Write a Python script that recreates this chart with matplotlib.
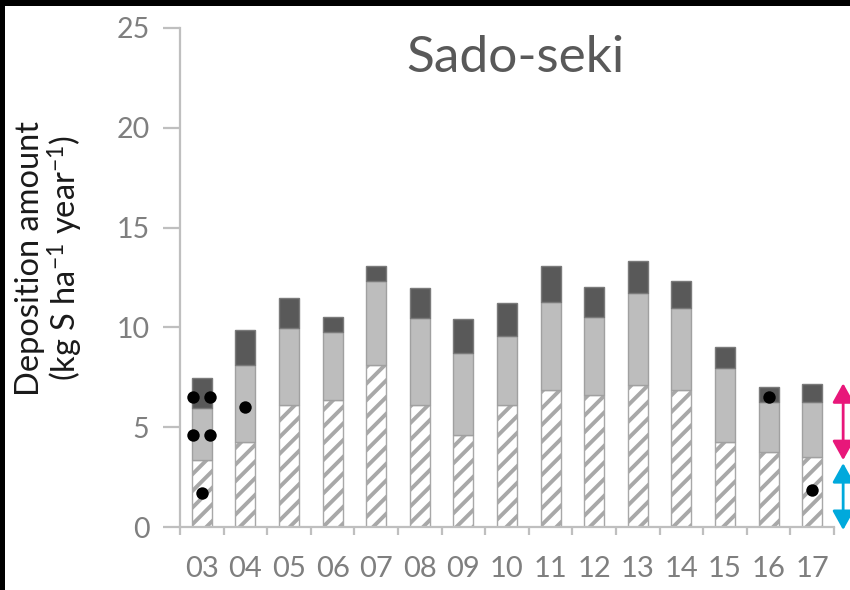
import matplotlib
matplotlib.use("Agg")
import matplotlib.pyplot as plt
from matplotlib.patches import Rectangle
import numpy as np

plt.rcParams['font.family'] = ['Lato', 'DejaVu Sans']
plt.rcParams['mathtext.fontset'] = 'custom'
plt.rcParams['mathtext.rm'] = 'Lato'
plt.rcParams['mathtext.it'] = 'Lato:italic'
plt.rcParams['hatch.linewidth'] = 2.8

# ---- data ----
years = ['03', '04', '05', '06', '07', '08', '09', '10', '11', '12', '13', '14', '15', '16', '17']
# cumulative tops of each layer
hatched_top = [3.35, 4.25, 6.1, 6.35, 8.1, 6.1, 4.6, 6.1, 6.85, 6.6, 7.1, 6.85, 4.25, 3.75, 3.5]
light_top = [5.95, 8.1, 9.95, 9.75, 12.3, 10.45, 8.7, 9.55, 11.25, 10.5, 11.7, 10.95, 7.95, 6.25, 6.25]
dark_top = [7.45, 9.85, 11.45, 10.5, 13.1, 11.95, 10.4, 11.2, 13.1, 12.0, 13.35, 12.3, 9.0, 7.0, 7.15]

marker_years = ['03', '03', '03', '03', '03', '04', '16', '17']
marker_values = [6.5, 6.5, 4.6, 4.6, 1.7, 6.0, 6.5, 1.85]
marker_side = [-1, 1, -1, 1, 0, 0, 0, 0]   # -1 left edge, 1 right edge, 0 centre

arrow_ranges = [(3.35, 7.2), (-0.15, 3.2)]
arrow_colors = ['#e8177a', '#00a9dc']

title = 'Sado-seki'
ylabel = 'Deposition amount\n(kg S ha$^{-1}$ year$^{-1}$)'
yticks = [0, 5, 10, 15, 20, 25]

# ---- figure ----
fig = plt.figure(figsize=(8.5, 5.9), dpi=100)
fig.patch.set_facecolor('black')
fig.add_artist(Rectangle((5 / 850, 0), 1, 1 - 6 / 590, transform=fig.transFigure,
                         facecolor='white', edgecolor='none', zorder=-10))
ax = fig.add_axes([180 / 850, 1 - 527 / 590, 654 / 850, 499 / 590])
ax.set_facecolor('white')

x = np.arange(len(years))
w = 0.46
h = np.array(hatched_top)
l = np.array(light_top)
d = np.array(dark_top)

ax.bar(x, h, width=w, color='white', edgecolor='#a8a8a8', hatch='//', linewidth=1.0, zorder=2)
ax.bar(x, l - h, bottom=h, width=w, color='#bdbdbd', edgecolor='#a0a0a0', linewidth=1.0, zorder=2)
ax.bar(x, d - l, bottom=l, width=w, color='#595959', edgecolor='#7a7a7a', linewidth=1.0, zorder=2)

mx = np.array([years.index(yv) for yv in marker_years]) + np.array(marker_side) * w * 0.42
ax.scatter(mx, marker_values, s=80, color='black', zorder=4, linewidths=0)

for (lo, hi), c in zip(arrow_ranges, arrow_colors):
    ax.annotate('', xy=(1.014, lo), xytext=(1.014, hi),
                xycoords=('axes fraction', 'data'), textcoords=('axes fraction', 'data'),
                arrowprops=dict(arrowstyle='<|-|>,head_length=0.45,head_width=0.25', color=c,
                                lw=2, mutation_scale=26, shrinkA=0, shrinkB=0),
                annotation_clip=False)

ax.set_xlim(-0.5, len(years) - 0.5)
ax.set_ylim(0, 25)

for s in ['top', 'right']:
    ax.spines[s].set_visible(False)
for s in ['left', 'bottom']:
    ax.spines[s].set_color('#bfbfbf')
    ax.spines[s].set_linewidth(1.6)

ax.set_yticks(yticks)
ax.tick_params(axis='y', direction='out', length=12, width=1.6, color='#bfbfbf',
               labelsize=20.5, labelcolor='#7f7f7f', pad=10)
ax.set_xticks(x)
ax.set_xticklabels(years)
ax.set_xticks(np.arange(len(years) + 1) - 0.5, minor=True)
ax.tick_params(axis='x', which='major', length=0, labelsize=21, labelcolor='#7f7f7f', pad=21)
ax.tick_params(axis='x', which='minor', direction='out', length=6, width=1.6, color='#bfbfbf')

ax.text(0.513, 0.94, title, transform=ax.transAxes, ha='center', va='center',
        fontsize=37, color='#595959')

fig.text(50 / 850, 1 - 258 / 590, ylabel, rotation=90, ha='center', va='center',
         fontsize=23.5, color='#1a1a1a', linespacing=1.0, multialignment='center')

fig.savefig('out.png', dpi=100, facecolor=fig.get_facecolor())
